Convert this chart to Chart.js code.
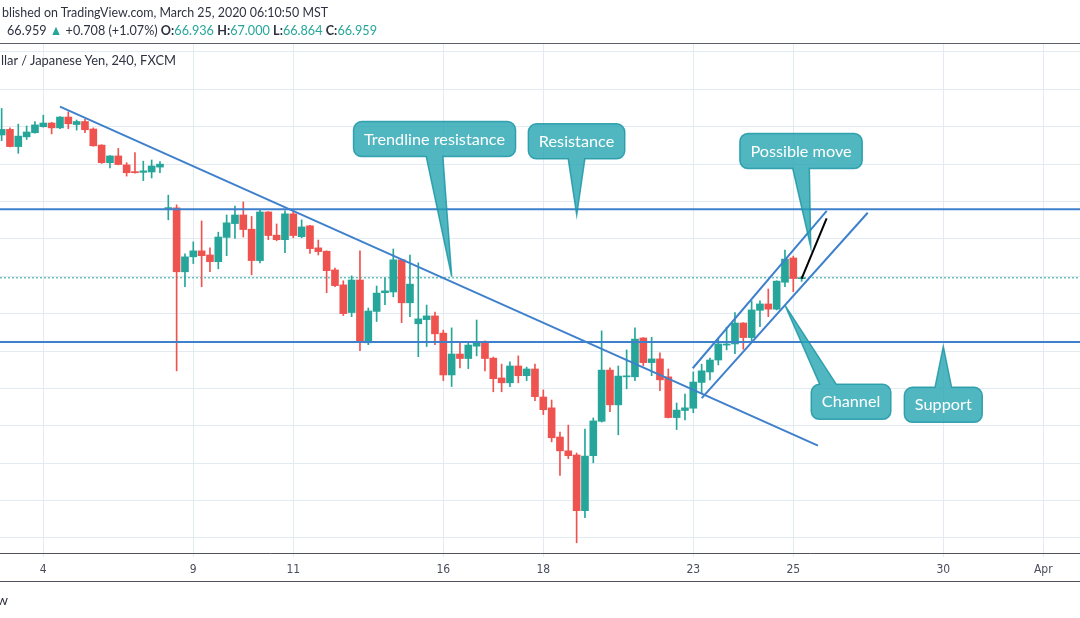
<!DOCTYPE html>
<html><head><meta charset="utf-8">
<script src="https://cdn.jsdelivr.net/npm/chart.js@4/dist/chart.umd.min.js"></script>
<style>
html,body{margin:0;padding:0;background:#fff;width:1080px;height:618px;overflow:hidden;}
#wrap{position:relative;width:1080px;height:618px;}
canvas{position:absolute;left:0;top:0;}
.t{position:absolute;white-space:nowrap;font-family:Lato,"Noto Sans",sans-serif;color:#2f3240;transform-origin:0 0;line-height:1;}
.g{color:#26a69a}
.b{font-weight:bold}
.hl{position:absolute;left:0;width:1080px;height:1px;}
</style></head><body>
<div id="wrap">
<canvas id="c" width="1080" height="618"></canvas>
<div class="hl" style="top:43px;background:#5d606b"></div>
<div class="hl" style="top:581px;background:#50535e"></div>
<div class="t" id="h1" style="left:2px;top:5px;font-size:14px">blished on TradingView.com, March 25, 2020 06:10:50 MST</div>
<div class="t" id="h2" style="left:7px;top:23px;font-size:14px">66.959 <span class="g">▲</span> +0.708 (+1.07%) <span class="b">O:</span><span class="g">66.936</span> <span class="b">H:</span><span class="g">67.000</span> <span class="b">L:</span><span class="g">66.864</span> <span class="b">C:</span><span class="g">66.959</span></div>
<div class="t" id="h3" style="left:1px;top:53px;font-size:14px">llar / Japanese Yen, 240, FXCM</div>
<div class="t" style="left:-3px;top:593px;font-size:14px">w</div>
</div>
<script>
// ---- data (AUD/JPY, 240 min bars, index 0 = first bar of March 4) ----
const firstIndex = -5;
const opens  = [70.78,70.93,70.47,70.73,70.84,71.00,71.10,70.97,71.26,71.06,71.14,70.94,70.51,70.04,70.22,69.98,69.80,69.78,69.79,69.92,68.81,68.83,67.12,67.52,67.68,67.57,67.39,68.04,68.41,68.64,68.26,67.42,68.72,68.10,67.98,68.67,68.06,68.35,67.76,67.67,67.17,66.77,66.03,66.90,65.22,66.06,66.56,66.58,67.44,66.29,65.73,65.84,65.94,65.48,64.36,64.92,64.80,65.13,65.24,64.81,64.28,64.15,64.60,64.34,64.52,63.77,63.48,62.70,62.33,62.22,60.73,62.20,63.12,64.49,63.56,64.31,64.31,65.35,64.69,64.79,64.31,63.22,63.41,63.47,64.16,64.44,64.76,65.16,65.19,65.75,65.36,66.09,66.26,66.12,66.84,67.49,66.936];
const highs  = [71.49,70.97,71.07,71.02,71.14,71.31,71.12,71.27,71.40,71.18,71.20,70.97,70.52,70.23,70.42,70.04,70.31,70.08,70.11,70.07,69.17,68.91,67.60,67.92,68.48,67.76,68.18,68.64,68.88,68.99,68.60,68.77,68.73,68.40,68.75,68.77,68.51,68.36,67.97,67.68,67.22,66.88,67.01,67.68,66.15,66.74,66.96,67.73,67.45,67.57,67.36,66.23,66.04,65.56,65.62,65.24,65.24,65.83,65.27,64.84,64.65,64.71,64.87,64.57,64.65,63.96,63.69,62.83,63.02,62.27,62.91,63.21,65.54,64.55,64.60,65.03,65.62,65.36,65.37,64.95,64.52,63.61,63.85,64.44,64.65,64.81,65.32,65.64,66.03,65.76,66.34,66.34,66.66,66.88,67.70,67.54,67.000];
const lows   = [70.63,70.46,70.29,70.66,70.83,70.99,70.81,70.95,70.95,70.91,70.84,70.48,70.02,69.90,69.98,69.68,69.76,69.56,69.63,69.77,68.51,64.47,66.72,67.34,66.72,67.12,67.20,67.55,68.01,68.05,67.04,67.36,67.98,67.95,67.63,68.03,68.03,67.61,67.57,66.56,66.72,65.95,65.92,65.01,65.17,65.79,66.24,66.45,65.76,65.92,64.85,65.12,65.17,64.21,64.05,64.55,64.53,64.87,64.47,63.91,63.91,64.05,64.15,64.21,63.67,63.30,62.57,61.67,62.12,59.87,60.54,62.01,63.10,63.38,62.76,63.99,64.21,64.61,64.34,63.94,63.21,62.90,63.16,63.35,63.86,64.23,64.63,65.03,64.93,65.05,65.25,65.65,65.92,66.10,66.72,66.59,66.864];
const closes = [70.93,70.47,70.75,70.86,71.05,71.10,70.97,71.26,71.08,71.14,70.92,70.49,70.04,70.22,69.99,69.77,69.77,69.82,69.95,70.00,68.82,67.12,67.52,67.68,67.55,67.39,68.05,68.43,68.64,68.25,67.42,68.72,68.09,67.98,68.67,68.09,68.32,67.74,67.66,67.15,66.75,66.00,66.90,65.25,66.07,66.55,66.61,67.44,66.29,66.79,65.86,65.94,65.46,64.36,64.92,64.80,65.16,65.22,64.80,64.26,64.15,64.60,64.34,64.52,63.78,63.43,62.68,62.33,62.20,60.73,62.19,63.13,64.49,63.56,64.33,64.33,65.32,64.69,64.79,64.23,63.22,63.42,63.48,64.17,64.47,64.76,65.19,65.19,65.75,65.36,66.10,66.26,66.12,66.87,67.46,66.94,66.959];

const tickIdx    = [0, 18, 30, 48, 60, 78, 90, 108, 120];
const tickLabels = ['4','9','11','16','18','23','25','30','Apr'];
const priceGrid  = [60,61,62,63,64,65,66,67,68,69,70,71,72,73];

const resistanceLevel = 68.79;
const supportLevel    = 65.24;
const lastPrice       = 66.959;
const trendX   = [2.0, 92.96];  const trendY   = [71.54, 62.47];
const chanUpX  = [77.93, 94.01]; const chanUpY  = [64.54, 68.75];
const chanLoX  = [79.01, 98.93]; const chanLoY  = [63.74, 68.70];
const moveX    = [91.0, 94.0];  const moveY    = [66.94, 68.55];

const calloutTexts = ['Trendline resistance','Resistance','Possible move','Channel','Support'];
const calloutBoxX  = [46.95, 63.99, 90.93, 96.93, 108.0];
const calloutBoxY  = [70.67, 70.61, 70.35, 63.64, 63.56];
const calloutTipX  = [49.01, 64.01, 92.09, 88.99, 108.0];
const calloutTipY  = [66.99, 68.64, 67.79, 66.23, 65.12];

// ---- view / style ----
const X_MIN = -5.196, X_MAX = 124.404, Y_MIN = 59.597, Y_MAX = 73.214;
const GREEN = '#26a69a', RED = '#ef5350', BLUE = '#3f80cc', GRID = '#e3ebf2';
const calloutSide  = ['bottom','bottom','bottom','top','top'];
const calloutShift = [0, 0, 0, -23, 0];

const idx = opens.map((_, i) => firstIndex + i);
const colors = idx.map((_, i) => closes[i] >= opens[i] ? GREEN : RED);
const bodies = idx.map((x, i) => ({x, y: [opens[i], closes[i]]}));
const wicks  = idx.map((x, i) => ({x, y: [lows[i], highs[i]]}));
const seg = (xs, ys) => xs.map((x, i) => ({x, y: ys[i]}));
const lineDs = (data, color, width, dash) => ({type:'line', data, borderColor:color, borderWidth:width, borderDash:dash||[], pointRadius:0, tension:0, fill:false});

const calloutPlugin = {
  id: 'callouts',
  afterDatasetsDraw(chart) {
    const {ctx} = chart, xs = chart.scales.x, ys = chart.scales.y;
    ctx.save();
    ctx.font = '16px Lato, "Noto Sans", sans-serif';
    const sx = 141 / ctx.measureText('Trendline resistance').width;
    calloutTexts.forEach((txt, i) => {
      const cx = xs.getPixelForValue(calloutBoxX[i]);
      const cy = ys.getPixelForValue(calloutBoxY[i]);
      const tx = xs.getPixelForValue(calloutTipX[i]);
      const ty = ys.getPixelForValue(calloutTipY[i]);
      const tw = ctx.measureText(txt).width * sx;
      const w = tw + 21, h = 35, rad = 8, bw = 8.3;
      const l = cx - w/2, r = cx + w/2, t = cy - h/2, b = cy + h/2;
      const bx = cx + calloutShift[i];
      ctx.beginPath();
      ctx.moveTo(l + rad, t);
      if (calloutSide[i] === 'top') { ctx.lineTo(bx - bw, t); ctx.lineTo(tx, ty); ctx.lineTo(bx + bw, t); }
      ctx.lineTo(r - rad, t); ctx.arcTo(r, t, r, t + rad, rad);
      ctx.lineTo(r, b - rad); ctx.arcTo(r, b, r - rad, b, rad);
      if (calloutSide[i] === 'bottom') { ctx.lineTo(bx + bw, b); ctx.lineTo(tx, ty); ctx.lineTo(bx - bw, b); }
      ctx.lineTo(l + rad, b); ctx.arcTo(l, b, l, b - rad, rad);
      ctx.lineTo(l, t + rad); ctx.arcTo(l, t, l + rad, t, rad);
      ctx.closePath();
      ctx.fillStyle = 'rgba(36,165,178,0.8)';
      ctx.fill();
      ctx.strokeStyle = 'rgba(30,152,166,0.85)';
      ctx.lineWidth = 1.5;
      ctx.stroke();
      ctx.save();
      ctx.translate(cx, cy + 5.5);
      ctx.scale(sx, 1);
      ctx.fillStyle = '#ffffff';
      ctx.textAlign = 'center';
      ctx.textBaseline = 'alphabetic';
      ctx.fillText(txt, 0, 0);
      ctx.restore();
    });
    ctx.restore();
  }
};

new Chart(document.getElementById('c'), {
  type: 'bar',
  data: {
    datasets: [
      lineDs(seg(moveX, moveY), '#000000', 2),
      lineDs(seg(chanUpX, chanUpY), BLUE, 2),
      lineDs(seg(chanLoX, chanLoY), BLUE, 2),
      lineDs(seg(trendX, trendY), BLUE, 2),
      lineDs([{x:X_MIN, y:resistanceLevel}, {x:X_MAX, y:resistanceLevel}], BLUE, 2),
      lineDs([{x:X_MIN, y:supportLevel}, {x:X_MAX, y:supportLevel}], BLUE, 2),
      {type:'bar', data: bodies, backgroundColor: colors, borderWidth: 0, barThickness: 7, grouped: false, minBarLength: 1},
      {type:'bar', data: wicks, backgroundColor: colors, borderWidth: 0, barThickness: 1, grouped: false},
      lineDs([{x:X_MIN, y:lastPrice}, {x:X_MAX, y:lastPrice}], GREEN, 1, [2, 2])
    ]
  },
  options: {
    responsive: false,
    animation: false,
    devicePixelRatio: 1,
    layout: {padding: {top: 44, left: 0, right: 0, bottom: 0}},
    plugins: {legend: {display: false}, tooltip: {enabled: false}, title: {display: false}},
    scales: {
      x: {
        type: 'linear', position: 'bottom', min: X_MIN, max: X_MAX, offset: false,
        afterBuildTicks: s => { s.ticks = tickIdx.map(v => ({value: v})); },
        afterFit: s => { s.height = 65; },
        ticks: {
          autoSkip: false, maxRotation: 0, padding: 6, color: '#4a4e5a',
          font: {family: '"DejaVu Sans Condensed", "Liberation Sans Narrow", sans-serif', size: 12},
          callback: (v, i) => tickLabels[i]
        },
        grid: {color: GRID, offset: false, tickLength: 4, drawTicks: true},
        border: {display: true, color: '#50535e', width: 1}
      },
      y: {
        type: 'linear', position: 'right', min: Y_MIN, max: Y_MAX, beginAtZero: false, offset: false,
        afterBuildTicks: s => { s.ticks = priceGrid.map(v => ({value: v})); },
        afterFit: s => { s.width = 0; },
        ticks: {display: false},
        grid: {color: GRID, drawTicks: false},
        border: {display: false}
      }
    }
  },
  plugins: [calloutPlugin]
});

// fit header texts to the widths they occupy
[['h1', 326], ['h2', 370], ['h3', 175]].forEach(([id, w]) => {
  const el = document.getElementById(id);
  const cw = el.getBoundingClientRect().width;
  if (cw > 0) el.style.transform = 'scaleX(' + (w / cw) + ')';
});
</script>
</body></html>
